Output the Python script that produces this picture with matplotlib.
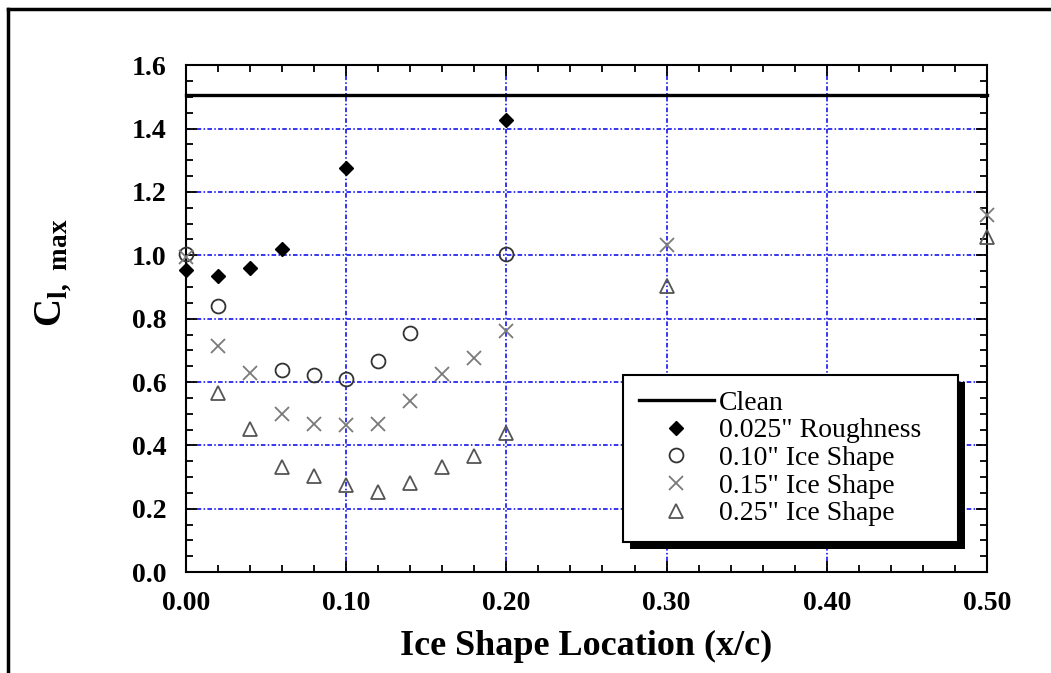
import matplotlib
matplotlib.use("Agg")
import matplotlib.pyplot as plt
from matplotlib.ticker import MultipleLocator, FormatStrFormatter
from matplotlib.patches import Rectangle
from matplotlib.lines import Line2D

plt.rcParams['font.family'] = ['Liberation Serif', 'DejaVu Serif']
plt.rcParams['mathtext.fontset'] = 'custom'
plt.rcParams['mathtext.rm'] = 'Liberation Serif'
plt.rcParams['mathtext.bf'] = 'Liberation Serif:bold'

# data
clean_x = [0.0, 0.5]
clean_y = [1.505, 1.505]

rough_x = [0.00, 0.02, 0.04, 0.06, 0.10, 0.20]
rough_y = [0.953, 0.934, 0.960, 1.019, 1.276, 1.426]

ice10_x = [0.00, 0.02, 0.06, 0.08, 0.10, 0.12, 0.14, 0.20]
ice10_y = [1.004, 0.839, 0.637, 0.622, 0.611, 0.666, 0.755, 1.004]

ice15_x = [0.00, 0.02, 0.04, 0.06, 0.08, 0.10, 0.12, 0.14, 0.16, 0.18, 0.20, 0.30, 0.50]
ice15_y = [0.995, 0.713, 0.627, 0.498, 0.469, 0.464, 0.469, 0.540, 0.625, 0.676, 0.760, 1.032, 1.127]

ice25_x = [0.02, 0.04, 0.06, 0.08, 0.10, 0.12, 0.14, 0.16, 0.18, 0.20, 0.30, 0.50]
ice25_y = [0.564, 0.453, 0.332, 0.303, 0.275, 0.253, 0.280, 0.332, 0.366, 0.438, 0.903, 1.058]

labels = ['Clean', '0.025" Roughness', '0.10" Ice Shape', '0.15" Ice Shape', '0.25" Ice Shape']

fig = plt.figure(figsize=(10.51, 6.73), dpi=100)
ax = fig.add_axes([0.177, 0.150, 0.762, 0.753])

ax.plot(clean_x, clean_y, color='black', lw=2.4, label=labels[0], clip_on=False, zorder=3)
ax.plot(rough_x, rough_y, 'D', color='black', ms=7, ls='none', label=labels[1], clip_on=False, zorder=4)
ax.plot(ice10_x, ice10_y, 'o', mfc='none', mec='#333333', mew=1.3, ms=10, ls='none', label=labels[2], clip_on=False, zorder=4)
ax.plot(ice15_x, ice15_y, 'x', color='#7a7a7a', mew=1.3, ms=10, ls='none', label=labels[3], clip_on=False, zorder=4)
ax.plot(ice25_x, ice25_y, '^', mfc='none', mec='#555555', mew=1.3, ms=10, ls='none', label=labels[4], clip_on=False, zorder=4)

ax.set_xlim(0, 0.5)
ax.set_ylim(0, 1.6)
ax.xaxis.set_major_locator(MultipleLocator(0.1))
ax.xaxis.set_minor_locator(MultipleLocator(0.02))
ax.yaxis.set_major_locator(MultipleLocator(0.2))
ax.yaxis.set_minor_locator(MultipleLocator(0.05))
ax.xaxis.set_major_formatter(FormatStrFormatter('%.2f'))
ax.yaxis.set_major_formatter(FormatStrFormatter('%.1f'))

ax.tick_params(which='both', direction='in', top=True, right=True, width=1.3, color='black')
ax.tick_params(which='major', length=8, labelsize=20)
ax.tick_params(which='minor', length=5)
ax.tick_params(axis='x', which='major', pad=14)
ax.tick_params(axis='y', which='major', pad=14)
for lab in ax.get_xticklabels() + ax.get_yticklabels():
    lab.set_fontweight('bold')

for sp in ax.spines.values():
    sp.set_linewidth(1.5)

ax.grid(True, which='major', color='#0000ee', lw=1.1, ls=(0, (3, 1.5, 1, 1.5)))

ax.set_xlabel('Ice Shape Location (x/c)', fontsize=26, fontweight='bold', labelpad=10)
ax.set_ylabel(r'$\mathbf{C}_{\mathbf{l,\ max}}$', fontsize=28)
ax.yaxis.set_label_coords(-0.14, 0.59)

leg = ax.legend(loc='upper left', bbox_to_anchor=(0.546, 0.059, 0.418, 0.33), mode='expand',
                borderaxespad=0, fontsize=20, frameon=True, fancybox=False,
                handlelength=2.7, handletextpad=0.2, labelspacing=0.08,
                borderpad=0.55, edgecolor='black', facecolor='white', framealpha=1)
leg.get_frame().set_linewidth(1.5)
leg.set_zorder(10)

# black drop shadow behind the legend box
fig.canvas.draw()
bb = leg.get_window_extent()
inv = fig.transFigure.inverted()
(x0, y0), (x1, y1) = inv.transform([(bb.x0 + 7, bb.y0 - 7), (bb.x1 + 7, bb.y1 - 7)])
fig.add_artist(Rectangle((x0, y0), x1 - x0, y1 - y0, transform=fig.transFigure,
                         facecolor='black', edgecolor='none', zorder=9))
ax.set_zorder(1)
leg.remove()
fig.add_artist(leg)

# outer frame (top and left edges)
fig.add_artist(Line2D([8 / 1051, 1.0], [1 - 9 / 673] * 2, color='black', lw=2.5, transform=fig.transFigure))
fig.add_artist(Line2D([8 / 1051] * 2, [0.0, 1 - 9 / 673], color='black', lw=2.5, transform=fig.transFigure))

fig.savefig('out.png', dpi=100)
